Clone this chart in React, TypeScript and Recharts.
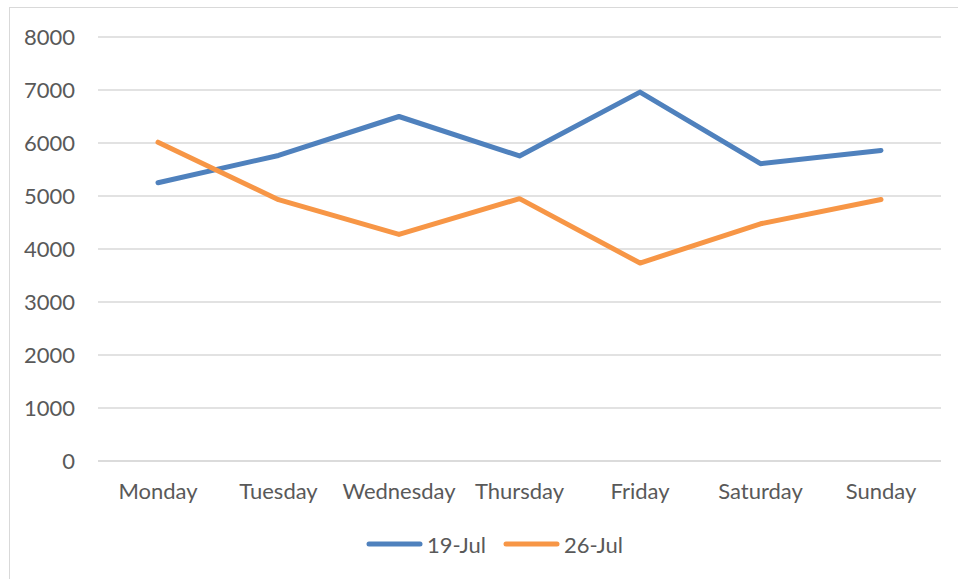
import { LineChart, Line, XAxis, YAxis, CartesianGrid, Legend } from 'recharts';

const days = ['Monday', 'Tuesday', 'Wednesday', 'Thursday', 'Friday', 'Saturday', 'Sunday'];
const jul19 = [5250, 5765, 6500, 5755, 6960, 5610, 5860];
const jul26 = [6015, 4930, 4275, 4950, 3735, 4475, 4935];
const yTicks = [0, 1000, 2000, 3000, 4000, 5000, 6000, 7000, 8000];

const data = days.map((day, i) => ({ day, jul19: jul19[i], jul26: jul26[i] }));

const FONT = 'Lato, "Open Sans", sans-serif';
const TEXT = '#595959';

function LegendContent({ payload }: any) {
  return (
    <div style={{ display: 'flex', alignItems: 'center', paddingLeft: 366, height: 30, fontFamily: FONT, fontSize: 22, color: TEXT }}>
      {(payload || []).map((p: any, i: number) => (
        <div key={i} style={{ display: 'flex', alignItems: 'center', marginRight: 17 }}>
          <svg width={57} height={8} style={{ marginRight: 4 }}>
            <line x1={3} y1={4} x2={54} y2={4} stroke={p.color} strokeWidth={5} strokeLinecap="round" />
          </svg>
          <span>{p.value}</span>
        </div>
      ))}
    </div>
  );
}

export default function App() {
  return (
    <div style={{ position: 'absolute', left: 0, top: 0, width: 958, height: 579, overflow: 'hidden', background: '#fff' }}>
      <div style={{ position: 'absolute', left: 9, top: 7, width: 960, height: 600, border: '1px solid #d9d9d9' }} />
      <div style={{ position: 'absolute', left: 0, top: 0 }}>
        <LineChart width={958} height={579} data={data} margin={{ top: 37, right: 17, left: 38, bottom: 38 }}>
          <CartesianGrid vertical={false} stroke="#d9d9d9" strokeWidth={1.5} />
          <XAxis
            dataKey="day"
            height={50}
            padding={{ left: 60, right: 60 }}
            axisLine={{ stroke: '#d9d9d9', strokeWidth: 1.5 }}
            tickLine={false}
            tickSize={0}
            tickMargin={22}
            tick={{ fill: TEXT, fontSize: 22, fontFamily: FONT }}
            interval={0}
          />
          <YAxis
            width={60}
            domain={[0, 8000]}
            ticks={yTicks}
            axisLine={false}
            tickLine={false}
            tickSize={0}
            tickMargin={23}
            tick={{ fill: TEXT, fontSize: 22, fontFamily: FONT }}
          />
          <Legend content={<LegendContent />} wrapperStyle={{ left: 0, width: 958, bottom: 20 }} />
          <Line dataKey="jul19" name="19-Jul" stroke="#4F81BD" strokeWidth={5} dot={false} strokeLinecap="round" strokeLinejoin="round" isAnimationActive={false} />
          <Line dataKey="jul26" name="26-Jul" stroke="#F79646" strokeWidth={5} dot={false} strokeLinecap="round" strokeLinejoin="round" isAnimationActive={false} />
        </LineChart>
      </div>
    </div>
  );
}
